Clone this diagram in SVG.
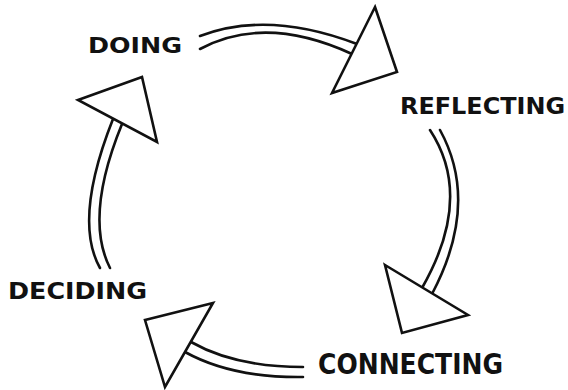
<svg xmlns="http://www.w3.org/2000/svg" width="568" height="390" viewBox="0 0 568 390">
<style>
.lbl{font-family:"DejaVu Sans Condensed","DejaVu Sans","Liberation Sans",sans-serif;font-stretch:condensed;font-weight:bold;fill:#111}
.shaft{fill:none;stroke:#111;stroke-width:2.6;stroke-linecap:round}
.head{fill:#fff;stroke:#111;stroke-width:2.6;stroke-linejoin:miter}
</style>
<rect width="568" height="390" fill="#fff"/>
<g id="doing"><text class="lbl" x="88" y="52.5" font-size="21" textLength="94" lengthAdjust="spacingAndGlyphs">DOING</text></g>
<g id="reflecting"><text class="lbl" x="400" y="113.5" font-size="23.5" textLength="165" lengthAdjust="spacingAndGlyphs">REFLECTING</text></g>
<g id="connecting"><text class="lbl" x="318" y="373.5" font-size="28" textLength="185" lengthAdjust="spacingAndGlyphs">CONNECTING</text></g>
<g id="deciding"><text class="lbl" x="8" y="298.5" font-size="23" textLength="139" lengthAdjust="spacingAndGlyphs">DECIDING</text></g>
<g id="connectors">
<g id="arrow-doing-reflecting">
<path class="shaft" d="M200,36 Q268,10 357,44"/>
<path class="shaft" d="M200,49 Q265,14 352,54"/>
<polygon class="head" points="375,7 397,72 332,93"/>
</g>
<g id="arrow-reflecting-connecting">
<path class="shaft" d="M430,130 Q474,197 422,288"/>
<path class="shaft" d="M440,130 Q480,203 432,294"/>
<polygon class="head" points="385,265 468,315 402,333"/>
</g>
<g id="arrow-connecting-deciding">
<path class="shaft" d="M303,367 Q235,367 191,342"/>
<path class="shaft" d="M303,377 Q232,378 185,352"/>
<polygon class="head" points="145,320 213,303 165,387"/>
</g>
<g id="arrow-deciding-doing">
<path class="shaft" d="M100,268 Q73,220 113,119"/>
<path class="shaft" d="M110,268 Q84,217 122,124"/>
<polygon class="head" points="78,100 142,77 157,142"/>
</g>
</g>
</svg>
